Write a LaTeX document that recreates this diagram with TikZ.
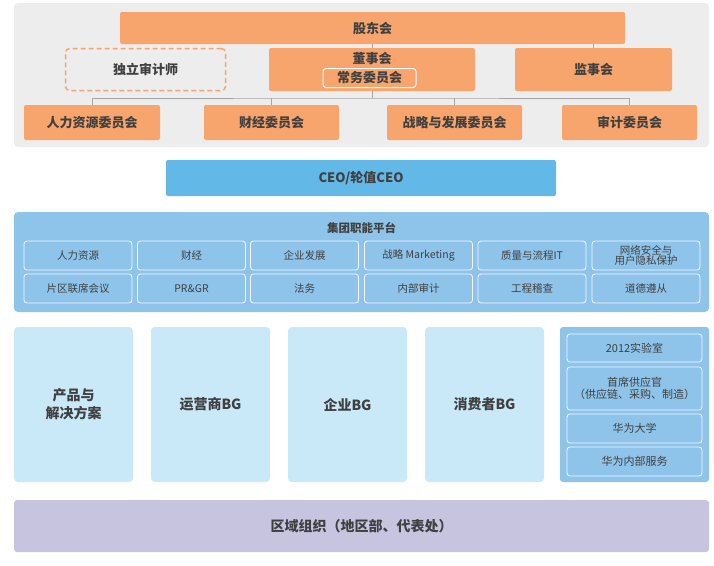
\documentclass[tikz,border=0pt]{standalone}
\usepackage{fontspec}
\setmainfont{Noto Sans CJK SC}
\begin{document}
\begin{tikzpicture}[x=1pt,y=-1pt,
  txt/.style={text=black!75},
  ob/.style={fill=orangeA,rounded corners=2pt,txt,font=\bfseries\fontsize{13}{15}\selectfont,inner sep=0pt},
  cell/.style={draw=white!80!blue!20,line width=0.8pt,fill=platB,rounded corners=3pt,txt,font=\fontsize{10.5}{11}\selectfont,inner sep=0pt,align=center},
  bg/.style={fill=bgA,rounded corners=4pt,inner sep=0pt,txt,font=\bfseries\fontsize{14}{18}\selectfont,align=center},
  conn/.style={draw=gray!70,line width=0.8pt}]
\definecolor{orangeA}{HTML}{F7A56C}
\definecolor{grayA}{HTML}{EDEDED}
\definecolor{ceoA}{HTML}{62B8E7}
\definecolor{platA}{HTML}{8EC4EA}
\definecolor{platB}{HTML}{8EC4EA}
\definecolor{bgA}{HTML}{C9E8F8}
\definecolor{regA}{HTML}{C7C4E0}
\useasboundingbox (0,0) rectangle (714,565);
\fill[white] (0,0) rectangle (714,565);
% top gray panel
\fill[grayA,rounded corners=4pt] (14,3) rectangle (709,147);
\node[ob,minimum width=505pt,minimum height=32pt] (gd) at (372.5,28) {股东会};
\node[draw=orangeA,dash pattern=on 5pt off 3pt,line width=1.5pt,rounded corners=4pt,minimum width=160pt,minimum height=42pt,txt,font=\bfseries\fontsize{13}{15}\selectfont,inner sep=0pt] (sj) at (145.5,69.5) {独立审计师};
\node[ob,minimum width=206pt,minimum height=43pt] (ds) at (372,69.5) {};
\node[txt,font=\bfseries\fontsize{13}{15}\selectfont,inner sep=0pt] (dst) at (372,59) {董事会};
\node[draw=white,line width=1pt,rounded corners=3pt,minimum width=93pt,minimum height=19pt,txt,font=\bfseries\fontsize{13}{15}\selectfont,inner sep=0pt] (cw) at (369.5,78) {常务委员会};
\node[ob,minimum width=157pt,minimum height=43pt] (js) at (593.5,69.5) {监事会};
\node[ob,minimum width=136pt,minimum height=35pt] (c1) at (92,122.5) {人力资源委员会};
\node[ob,minimum width=135pt,minimum height=35pt] (c2) at (271.5,122.5) {财经委员会};
\node[ob,minimum width=135pt,minimum height=35pt] (c3) at (454.5,122.5) {战略与发展委员会};
\node[ob,minimum width=135pt,minimum height=35pt] (c4) at (629.5,122.5) {审计委员会};
\coordinate (hub) at (372,98);
\draw[conn] (gd.south -| ds.north) -- (ds.north);
\draw[conn] (gd.south -| js.north) -- (js.north);
\draw[conn] (ds.south) -- (hub);
\draw[conn] (c1.north) |- (hub) -| (c4.north);
\draw[conn] (c2.north) -- (c2.north |- hub);
\draw[conn] (c3.north) -- (c3.north |- hub);
% CEO
\node[fill=ceoA,rounded corners=2pt,minimum width=390pt,minimum height=36pt,inner sep=0pt,txt,font=\bfseries\fontsize{13}{15}\selectfont] (ceo) at (361,178) {CEO/轮值CEO};
% platform
\node[fill=platA,rounded corners=4pt,minimum width=695pt,minimum height=100pt,inner sep=0pt] (plat) at (361.5,262) {};
\node[txt,font=\bfseries\fontsize{11.5}{13}\selectfont,inner sep=0pt] (pt) at (361.5,228) {集团职能平台};
\foreach \n/\x/\a/\b in {p1/78/人力资源/片区联席会议, p2/191.5/财经/PR\&GR, p3/304.5/企业发展/法务, p4/418.5/战略 Marketing/内部审计, p5/532/质量与流程IT/工程稽查}{
  \node[cell,minimum width=108pt,minimum height=29pt] (\n a) at (\x,255.5) {\a};
  \node[cell,minimum width=108pt,minimum height=29pt] (\n b) at (\x,288.5) {\b};
}
\node[cell,minimum width=108pt,minimum height=29pt,font=\fontsize{10.5}{10.5}\selectfont] (p6a) at (646,255.5) {网络安全与\\用户隐私保护};
\node[cell,minimum width=108pt,minimum height=29pt] (p6b) at (646,288.5) {道德遵从};
% business groups
\node[bg,minimum width=119pt,minimum height=155pt] (b1) at (73.5,404.5) {产品与\\解决方案};
\node[bg,minimum width=119pt,minimum height=155pt] (b2) at (210.5,404.5) {运营商BG};
\node[bg,minimum width=119pt,minimum height=155pt] (b3) at (347.5,404.5) {企业BG};
\node[bg,minimum width=119pt,minimum height=155pt] (b4) at (484.5,404.5) {消费者BG};
\node[fill=platA,rounded corners=3pt,minimum width=149pt,minimum height=155pt,inner sep=0pt] (rc) at (634.5,404.5) {};
\node[cell,minimum width=135pt,minimum height=28pt,font=\fontsize{11}{12.5}\selectfont] (r1) at (634.5,348) {2012实验室};
\node[cell,minimum width=135pt,minimum height=43pt,font=\fontsize{11}{12.5}\selectfont] (r2) at (634.5,388.5) {首席供应官\\（供应链、采购、制造）};
\node[cell,minimum width=135pt,minimum height=29pt,font=\fontsize{11}{12.5}\selectfont] (r3) at (634.5,428.5) {华为大学};
\node[cell,minimum width=135pt,minimum height=29pt,font=\fontsize{11}{12.5}\selectfont] (r4) at (634.5,461.5) {华为内部服务};
% region
\node[fill=regA,rounded corners=3pt,minimum width=695pt,minimum height=52pt,inner sep=0pt,txt,font=\bfseries\fontsize{14}{16}\selectfont] (reg) at (361.5,526) {区域组织（地区部、代表处）};
\end{tikzpicture}
\end{document}
